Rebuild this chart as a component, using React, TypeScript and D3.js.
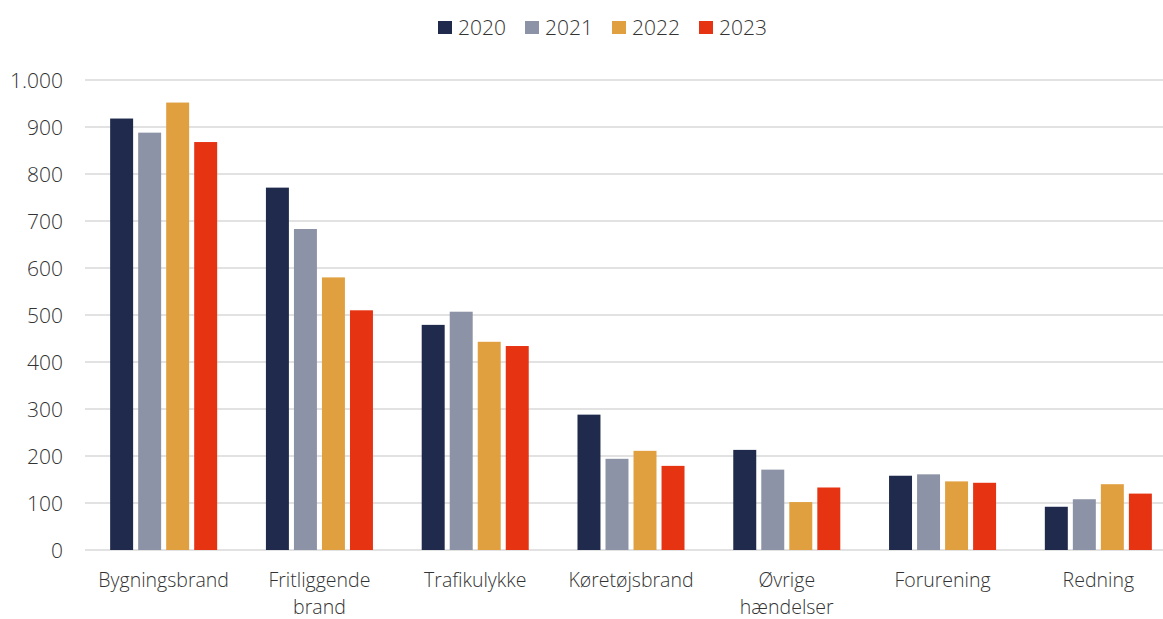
import * as d3 from "d3"
import React from "react"

// Udrykninger fordelt på hændelsestype, 2020-2023
const categories = [
  ["Bygningsbrand"],
  ["Fritliggende", "brand"],
  ["Trafikulykke"],
  ["Køretøjsbrand"],
  ["Øvrige", "hændelser"],
  ["Forurening"],
  ["Redning"],
]
const years = ["2020", "2021", "2022", "2023"]
const values2020 = [918, 771, 479, 288, 213, 158, 92]
const values2021 = [888, 683, 507, 194, 171, 161, 108]
const values2022 = [952, 580, 443, 211, 102, 146, 140]
const values2023 = [868, 510, 434, 179, 133, 143, 120]
const yTicks = [0, 100, 200, 300, 400, 500, 600, 700, 800, 900, 1000]
const colors = ["#1f2a4c", "#8d93a6", "#e0a040", "#e63312"]

const series = [values2020, values2021, values2022, values2023]

const width = 1163
const height = 619
const font = "'Open Sans', sans-serif"
const textColor = "#333333"

const App = () => {
  const keys = categories.map(c => c.join(" "))

  const x0 = d3.scaleBand()
    .domain(keys)
    .range([86, 1176])
    .paddingInner(0.313)
    .paddingOuter(0.155)

  const x1 = d3.scaleBand()
    .domain(years)
    .range([0, x0.bandwidth()])
    .paddingInner(0.18)

  const y = d3.scaleLinear()
    .domain([0, 1000])
    .range([550, 80])

  const fmt = (v: number) => v >= 1000 ? d3.format(",")(v).replace(",", ".") : String(v)

  return (
    <svg width={width} height={height} style={{ position: "absolute", left: 0, top: 0, background: "#fff" }}>
      {/* grid */}
      {yTicks.map(t => (
        <line key={t} x1={85} x2={width} y1={y(t)} y2={y(t)} stroke="#d9d9d9" strokeWidth={1.5} />
      ))}
      {yTicks.map(t => (
        <text key={"l" + t} x={63} y={y(t)} dy="0.36em" textAnchor="end"
          fontFamily={font} fontWeight={300} fontSize={21} fill={textColor}>
          {fmt(t)}
        </text>
      ))}

      {/* bars */}
      {keys.map((k, i) => (
        <g key={k} transform={`translate(${x0(k)},0)`}>
          {years.map((yr, j) => (
            <rect key={yr} x={x1(yr)} width={x1.bandwidth()}
              y={y(series[j][i])} height={y(0) - y(series[j][i])} fill={colors[j]} />
          ))}
        </g>
      ))}

      {/* category labels */}
      {categories.map((lines, i) => (
        <text key={keys[i]} x={(x0(keys[i]) as number) + x0.bandwidth() / 2} y={587}
          textAnchor="middle" fontFamily={font} fontWeight={300} fontSize={19.5} fill={textColor}>
          {lines.map((ln, li) => (
            <tspan key={li} x={(x0(keys[i]) as number) + x0.bandwidth() / 2} dy={li === 0 ? 0 : 26.6}>{ln}</tspan>
          ))}
        </text>
      ))}

      {/* legend */}
      {years.map((yr, j) => (
        <g key={yr} transform={`translate(${438 + j * 87},21)`}>
          <rect width={14} height={13} fill={colors[j]} />
          <text x={20} y={6.5} dy="0.36em" fontFamily={font} fontWeight={300} fontSize={21} fill={textColor}>{yr}</text>
        </g>
      ))}
    </svg>
  )
}

export default App
